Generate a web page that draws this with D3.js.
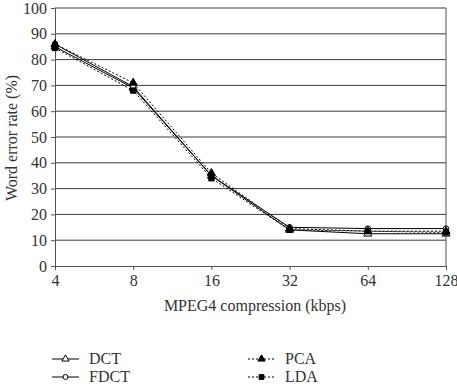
<!DOCTYPE html>
<html><head><meta charset="utf-8">
<script src="https://cdn.jsdelivr.net/npm/d3@7"></script>
<style>body{margin:0;background:#fff}svg text{font-family:"Liberation Serif","DejaVu Serif",serif;fill:#333}</style>
</head><body><svg id="c" width="457" height="386"></svg>
<script>
const categories = ["4","8","16","32","64","128"];
const dct  = [85, 69, 35, 14, 12.5, 12.5];
const fdct = [86, 69.5, 35, 15, 14.5, 14.5];
const pca  = [86, 71, 36, 14.5, 13.5, 13.5];
const lda  = [84.5, 68, 34, 14, 13.5, 13];
const yTicks = [0,10,20,30,40,50,60,70,80,90,100];
const seriesNames = ["DCT","FDCT","PCA","LDA"];

const svg = d3.select("#c");
const L=55, R=446, T=8, B=266;
const FS = "16px";
const x = d3.scalePoint().domain(categories).range([L,R]);
const y = d3.scaleLinear().domain([0,100]).range([B,T]);

svg.append("g").selectAll("line").data(yTicks.filter(d=>d>0)).join("line")
  .attr("x1",L).attr("x2",R).attr("y1",d=>y(d)).attr("y2",d=>y(d))
  .attr("stroke","#3a3a3a").attr("stroke-width",1);
svg.append("line").attr("x1",R).attr("x2",R).attr("y1",T).attr("y2",B).attr("stroke","#555");

const ya = svg.append("g").attr("transform",`translate(${L},0)`)
  .call(d3.axisLeft(y).tickValues(yTicks).tickSize(4).tickPadding(4));
ya.select(".domain").attr("stroke","#555");
ya.selectAll(".tick line").attr("stroke","#555");
ya.selectAll("text").style("font-size",FS);

const xa = svg.append("g").attr("transform",`translate(0,${B})`)
  .call(d3.axisBottom(x).tickSize(4).tickPadding(5));
xa.select(".domain").attr("stroke","#555");
xa.selectAll(".tick line").attr("stroke","#555");
xa.selectAll("text").style("font-size",FS);

svg.append("text").attr("x",255).attr("y",311).attr("text-anchor","middle")
  .style("font-size",FS).text("MPEG4 compression (kbps)");
svg.append("text").attr("transform","translate(17,138) rotate(-90)").attr("text-anchor","middle")
  .style("font-size",FS).text("Word error rate (%)");

const data = [
  {name:"DCT", v:dct, dash:null, marker:"tri", fill:"#fff"},
  {name:"FDCT", v:fdct, dash:null, marker:"circle", fill:"#fff"},
  {name:"PCA", v:pca, dash:"2,2", marker:"tri", fill:"#000"},
  {name:"LDA", v:lda, dash:"2,2", marker:"square", fill:"#000"}
];
const line = d3.line().x((d,i)=>x(categories[i])).y(d=>y(d));
const sym = {tri:d3.symbolTriangle, circle:d3.symbolCircle, square:d3.symbolSquare};
function drawMarker(g, s, cx, cy, k){
  g.append("path").attr("d", d3.symbol().type(sym[s.marker]).size((s.marker==="circle"?24:28)*k)())
   .attr("transform",`translate(${cx},${cy})`)
   .attr("fill",s.fill).attr("stroke","#000").attr("stroke-width",1);
}
data.forEach(s=>{
  svg.append("path").datum(s.v).attr("d",line).attr("fill","none")
    .attr("stroke","#000").attr("stroke-width",1).attr("stroke-dasharray",s.dash);
});
data.forEach(s=>{
  const g=svg.append("g");
  s.v.forEach((d,i)=>drawMarker(g,s,x(categories[i]),y(d),1));
});

const legPos = [[52,359],[52,377],[248,359],[248,377]];
data.forEach((s,i)=>{
  const [lx,ly]=legPos[i];
  const g=svg.append("g");
  g.append("line").attr("x1",lx).attr("x2",lx+27).attr("y1",ly).attr("y2",ly)
    .attr("stroke","#000").attr("stroke-width",1).attr("stroke-dasharray",s.dash);
  drawMarker(g,s,lx+13.5,ly,0.8);
  g.append("text").attr("x",lx+37).attr("y",ly+5).style("font-size",FS).text(s.name);
});
</script></body></html>
